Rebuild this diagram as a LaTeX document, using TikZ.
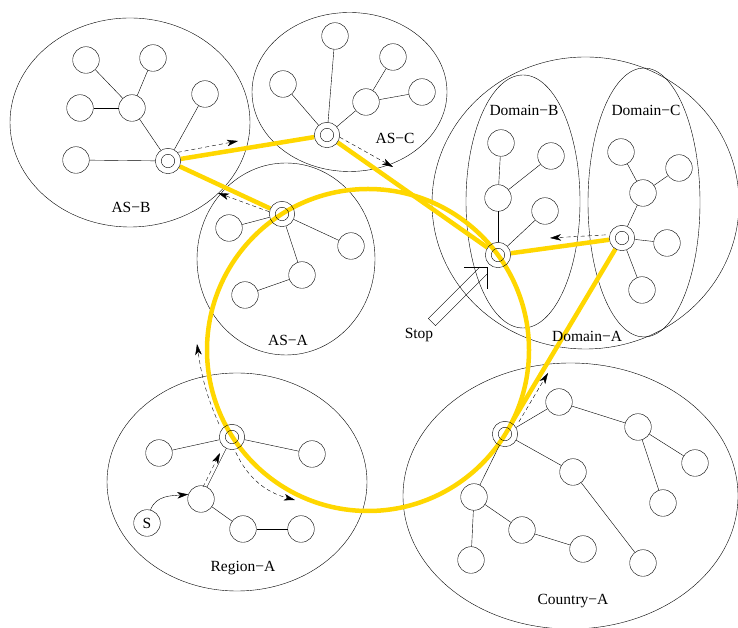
\documentclass[tikz,border=0pt]{standalone}
\usepackage{fontspec}
\setmainfont{Liberation Serif}
\usetikzlibrary{arrows.meta}
\definecolor{ringyellow}{RGB}{255,215,0}
\newcommand\lblfont{\fontsize{15.5}{18}\selectfont}
\newcommand\mns{\char"2212\relax}
\pgfdeclarelayer{regions}
\pgfdeclarelayer{ringlayer}
\pgfsetlayers{regions,ringlayer,main}

\begin{document}
\begin{tikzpicture}[x=1pt, y=1pt, line width=1pt,
    >={Stealth[length=11pt, width=6.5pt, inset=3pt]},
    lbl/.style={font=\lblfont, inner sep=0pt}]
    \tikzset{
      host/.style={
        draw, circle,
        minimum size=26.6pt,
        inner sep=0pt,
      },
      gw/.style={
        draw, circle,
        minimum size=25.4pt,
        inner sep=0pt,
        path picture={\draw (path picture bounding box.center) circle (6.7pt);},
      },
      flow/.style={
        ->,
        dash pattern=on 4pt off 3pt,
      }
    }
    \tikzstyle{ring} = [draw=ringyellow, line width=4.5pt]

    \useasboundingbox (0,0) rectangle (738,628);

    \begin{pgfonlayer}{regions}
      \draw (130,505.5) ellipse [x radius=120pt, y radius=104.5pt];   % AS-B
      \draw (349.5,536) ellipse [x radius=97.5pt, y radius=79.5pt];   % AS-C
      \draw (286,369) ellipse [x radius=89pt, y radius=96pt];         % AS-A
      \draw (237,146) ellipse [x radius=130pt, y radius=109pt];       % Region-A
      \draw (570.5,132) ellipse [x radius=167.5pt, y radius=133pt];   % Country-A
      \draw (585.5,425) ellipse [x radius=153.5pt, y radius=146pt];   % Domain-A
      \draw (523,426.5) ellipse [x radius=57pt, y radius=126.5pt];    % Domain-B
      \draw (644,425.5) ellipse [x radius=56pt, y radius=134.5pt];    % Domain-C
    \end{pgfonlayer}

    % AS-B
    \node[host] (b1) at (86,568) {};
    \node[host] (b2) at (153,570) {};
    \node[host] (b3) at (80,520) {};
    \node[host] (bh) at (132,520) {};
    \node[host] (b4) at (205,534) {};
    \node[host] (b5) at (76,468) {};
    \node[gw]   (asb-gw) at (168,467) {};
    \node[lbl]  (asb-lbl) at (131,421) {AS\mns B};

    % AS-C
    \node[host] (c1) at (335,592) {};
    \node[host] (c2) at (283,544) {};
    \node[host] (c3) at (393,571) {};
    \node[host] (ch) at (366,526) {};
    \node[host] (c4) at (422,536) {};
    \node[gw]   (asc-gw) at (327,493) {};
    \node[lbl]  (asc-lbl) at (395,490) {AS\mns C};

    % AS-A
    \node[gw]   (asa-gw) at (282,414) {};
    \node[host] (a1) at (229,400) {};
    \node[host] (a2) at (351,382) {};
    \node[host] (a3) at (302,353) {};
    \node[host] (a4) at (245,333) {};
    \node[lbl]  (asa-lbl) at (288,288) {AS\mns A};

    % Domain-B
    \node[host] (d1) at (501,485) {};
    \node[host] (d2) at (551,472) {};
    \node[host] (dh) at (498,430) {};
    \node[host] (d3) at (545,417) {};
    \node[gw]   (domb-gw) at (498,373) {};
    \node[lbl]  (domb-lbl) at (524,518) {Domain\mns B};

    % Domain-C
    \node[host] (e1) at (621,476) {};
    \node[host] (e2) at (679,460) {};
    \node[host] (eh) at (643,435) {};
    \node[gw]   (domc-gw) at (622,390) {};
    \node[host] (e3) at (667,385) {};
    \node[host] (e4) at (642,338) {};
    \node[lbl]  (domc-lbl) at (646,518) {Domain\mns C};
    \node[lbl]  (doma-lbl) at (587,292) {Domain\mns A};

    % Region-A
    \node[gw]   (reg-gw) at (232,191) {};
    \node[host] (r1) at (159,175) {};
    \node[host] (r2) at (312,174) {};
    \node[host] (rh) at (201,129) {};
    \node[host, font=\lblfont] (s) at (147,105) {S};
    \node[host] (r3) at (243,99) {};
    \node[host] (r4) at (301,99) {};
    \node[lbl]  (reg-lbl) at (243,60) {Region\mns A};

    % Country-A
    \node[gw]   (cty-gw) at (505,194) {};
    \node[host] (k1) at (559,226) {};
    \node[host] (k2) at (638,201) {};
    \node[host] (k3) at (695,165) {};
    \node[host] (k4) at (663,125) {};
    \node[host] (k5) at (573,156) {};
    \node[host] (k6) at (643,65) {};
    \node[host] (k7) at (474,131) {};
    \node[host] (k8) at (522,98) {};
    \node[host] (k9) at (583,79) {};
    \node[host] (k10) at (471,68) {};
    \node[lbl]  (cty-lbl) at (573,27) {Country\mns A};

    \path
        (b1) edge (bh)  (b2) edge (bh)  (b3) edge (bh)
        (bh) edge (asb-gw)  (b4) edge (asb-gw)  (b5) edge (asb-gw)

        (asc-gw) edge (c1)  (asc-gw) edge (c2)  (asc-gw) edge (ch)
        (ch) edge (c3)  (ch) edge (c4)

        (asa-gw) edge (a1)  (asa-gw) edge (a2)  (asa-gw) edge (a3)
        (a3) edge (a4)

        (d1) edge (dh)  (dh) edge (d2)  (dh) edge (domb-gw)  (domb-gw) edge (d3)

        (e1) edge (eh)  (eh) edge (e2)  (eh) edge (domc-gw)
        (domc-gw) edge (e3)  (domc-gw) edge (e4)

        (reg-gw) edge (r1)  (reg-gw) edge (r2)  (reg-gw) edge (rh)
        (rh) edge (r3)  (r3) edge (r4)

        (cty-gw) edge (k1)  (k1) edge (k2)  (k2) edge (k3)  (k2) edge (k4)
        (cty-gw) edge (k5)  (k5) edge (k6)
        (cty-gw) edge (k7)  (k7) edge (k8)  (k8) edge (k9)  (k7) edge (k10);

    % the ring and the gateway path
    \begin{pgfonlayer}{ringlayer}
      \draw[ring] (368,278) circle [radius=161pt];
      \draw[ring] (asa-gw) -- (asb-gw) -- (asc-gw) -- (domb-gw) -- (domc-gw) -- (cty-gw);
    \end{pgfonlayer}

    % forwarding
    \coordinate (asb-to) at (238,487);
    \coordinate (asc-to) at (393,461);
    \coordinate (asa-to) at (218,435);
    \coordinate (domc-to) at (550,390);
    \coordinate (cty-to) at (548,255);
    \coordinate (reg-up) at (197,284);
    \coordinate (reg-down) at (295,128);

    \path[flow]
        (asb-gw.42)   edge (asb-to)
        (asc-gw.-10)  edge (asc-to)
        (asa-gw.170)  edge (asa-to)
        (domc-gw.165) edge[shorten <=4pt] (domc-to)
        (cty-gw.33)   edge[shorten <=6pt] (cty-to)
        (reg-gw.145)  edge[bend left=8, shorten <=6pt] (reg-up)
        (reg-gw.-79)  edge[bend right=25, shorten <=3pt] (reg-down)
        (rh) edge[transform canvas={xshift=-4pt}, shorten >=5pt] (reg-gw);

    \draw[->] (s.75) to[out=70, in=185] (rh.160);

    % Stop
    \coordinate (stop-tip) at (487,361);
    \draw ([xshift=-23pt]stop-tip) -- (stop-tip) -- ([yshift=-22pt]stop-tip);
    \draw (stop-tip) ++(-7.2,0) -- ++(-51.5,-51.5) -- ++(7.2,-7.2) -- ++(51.5,51.5);
    \node[lbl] (stop-lbl) at (419,293) {Stop};
\end{tikzpicture}
\end{document}
